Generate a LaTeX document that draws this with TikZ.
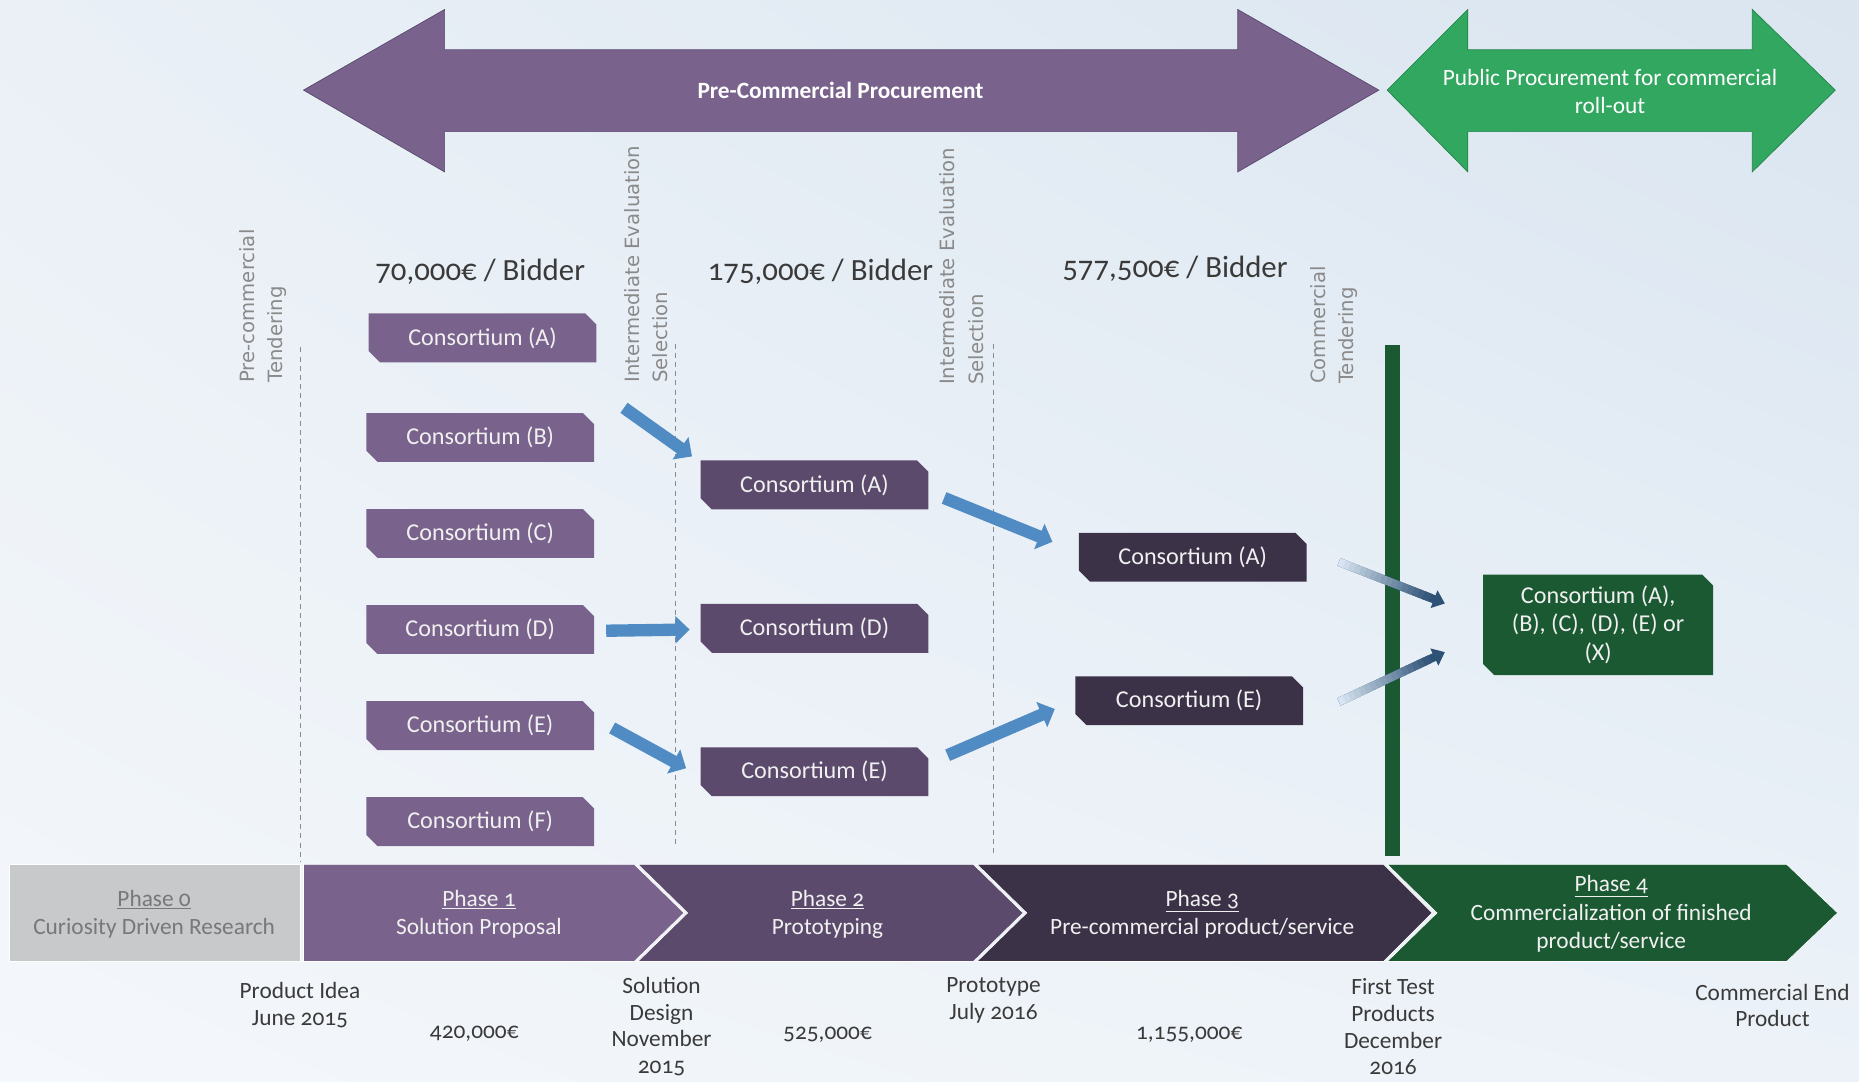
\documentclass[tikz,border=0pt]{standalone}
\usepackage{fontspec}
\setmainfont{Carlito}[Numbers=OldStyle]
\newfontfamily\vlabfont{DejaVu Sans}
\definecolor{bgtl}{RGB}{234, 240, 246}
\definecolor{bgtr}{RGB}{218, 229, 240}
\definecolor{bgbl}{RGB}{244, 247, 251}
\definecolor{bgbr}{RGB}{236, 242, 248}
\definecolor{pcpfill}{RGB}{121, 99, 140}
\definecolor{pcpline}{RGB}{88, 70, 110}
\definecolor{ppfill}{RGB}{49, 167, 96}
\definecolor{ppline}{RGB}{34, 130, 72}
\definecolor{phzero}{RGB}{200, 201, 203}
\definecolor{phone}{RGB}{121, 99, 140}
\definecolor{phtwo}{RGB}{91, 74, 108}
\definecolor{phthree}{RGB}{60, 50, 72}
\definecolor{phfour}{RGB}{27, 89, 51}
\definecolor{flowblue}{RGB}{80, 140, 195}
\definecolor{fadedark}{RGB}{46, 82, 118}
\definecolor{fadelight}{RGB}{215, 228, 241}
\definecolor{labelgray}{RGB}{138, 138, 138}
\definecolor{textdark}{RGB}{58, 58, 58}
\definecolor{zerotext}{RGB}{120, 120, 122}
\usetikzlibrary{calc, arrows.meta, shapes.misc, shadings}
\tikzset{
    cons/.style={chamfered rectangle, chamfered rectangle corners={north east, south west},
        chamfered rectangle xsep=3.5pt, minimum width=4.8cm, minimum height=1.03cm,
        inner sep=0pt, text=white!94!black, font=\fontsize{14.5}{17}\selectfont},
    consone/.style={cons, fill=phone},
    constwo/.style={cons, fill=phtwo},
    consthree/.style={cons, fill=phthree},
    consfin/.style={cons, fill=phfour, align=center, minimum width=4.85cm, minimum height=2.12cm},
    vlabel/.style={rotate=90, anchor=west, align=left, inner sep=0pt, text=labelgray,
        font=\vlabfont\fontsize{11.8}{17}\selectfont},
    sepline/.style={draw=labelgray, dashed, dash pattern=on 3pt off 2.5pt, thin},
    flow/.style={draw=flowblue, line width=7.4pt, -{Triangle[width=16pt, length=8.5pt]}},
    fadeflow/.style={draw=fadedark, line width=5pt, -{Triangle[width=11pt, length=7pt]}},
    fadeline/.style={line width=5pt, line cap=butt},
    bidder/.style={text=textdark, font=\fontsize{18.5}{22}\selectfont},
    mile/.style={align=center, text=textdark, font=\fontsize{14}{16}\selectfont},
    phtext/.style={align=center, text=white!94!black, font=\fontsize{14}{17}\selectfont},
}

\begin{document}
\begin{tikzpicture}[x=0.025cm, y=-0.025cm]
    % background
    \shade[upper left=bgtl, upper right=bgtr, lower left=bgbl, lower right=bgbr]
        (0,0) rectangle (1568,912);

    % procurement arrows
    \filldraw[fill=pcpfill, draw=pcpline] (256,76) -- (375,8) -- (375,42) -- (1044,42)
        -- (1044,8) -- (1163,76) -- (1044,145) -- (1044,111) -- (375,111) -- (375,145) -- cycle;
    \node[text=white, font=\bfseries\fontsize{14}{17}\selectfont] (pcp) at (709,76)
        {Pre-Commercial Procurement};
    \filldraw[fill=ppfill, draw=ppline] (1170,76) -- (1238,8) -- (1238,42) -- (1478,42)
        -- (1478,8) -- (1548,76) -- (1478,145) -- (1478,111) -- (1238,111) -- (1238,145) -- cycle;
    \node[phtext, text=white] (pp) at (1358,77)
        {Public Procurement for commercial\\roll-out};

    % tendering and selection marks
    \node[vlabel] (tend) at (222,323) {Pre-commercial\\Tendering};
    \node[vlabel] (selone) at (545,323) {Intermediate Evaluation\\Selection};
    \node[vlabel] (seltwo) at (811,325) {Intermediate Evaluation\\Selection};
    \node[vlabel] (comm) at (1125,324) {Commercial\\Tendering};
    \draw[sepline] (253,293) -- (253,727);
    \draw[sepline] (570,290) -- (570,712);
    \draw[sepline] (838,290) -- (838,722);
    \fill[phfour] (1168,291) rectangle (1181,722);

    % budget per bidder
    \node[bidder] (bone) at (405,229) {70,000€ / Bidder};
    \node[bidder] (btwo) at (692,229) {175,000€ / Bidder};
    \node[bidder] (bthree) at (991,227) {577,500€ / Bidder};

    % consortia
    \node[consone] (c1a) at (407,285) {Consortium (A)};
    \node[consone] (c1b) at (405,369) {Consortium (B)};
    \node[consone] (c1c) at (405,450) {Consortium (C)};
    \node[consone] (c1d) at (405,531) {Consortium (D)};
    \node[consone] (c1e) at (405,612) {Consortium (E)};
    \node[consone] (c1f) at (405,693) {Consortium (F)};
    \node[constwo] (c2a) at (687,409) {Consortium (A)};
    \node[constwo] (c2d) at (687,530) {Consortium (D)};
    \node[constwo] (c2e) at (687,651) {Consortium (E)};
    \node[consthree] (c3a) at (1006,470) {Consortium (A)};
    \node[consthree] (c3e) at (1003,591) {Consortium (E)};
    \node[consfin] (fin) at (1348,527) {Consortium (A),\\(B), (C), (D), (E) or\\(X)};

    % selections
    \draw[flow] ($(c1b.east)+(25,-25)$) -- ($(c2a.west)+(-7,-24)$);
    \draw[flow] ($(c1d.east)+(10,1)$) -- ($(c2d.west)+(-9,1)$);
    \draw[flow] ($(c1e.east)+(15,2)$) -- ($(c2e.west)+(-12,-3)$);
    \draw[flow] ($(c2a.east)+(13,11)$) -- ($(c3a.west)+(-22,-13)$);
    \draw[flow] ($(c2e.east)+(16,-14)$) -- ($(c3e.west)+(-17,7)$);

    % commercial roll-out
    \coordinate (fa) at ($(c3a.east)+(27,4)$);
    \coordinate (fb) at ($(fin.west)+(-32,-18)$);
    \coordinate (fc) at ($(c3e.east)+(30,1)$);
    \coordinate (fd) at ($(fin.west)+(-32,23)$);
    \foreach \s/\e in {fa/fb, fc/fd} {
        \draw[fadeflow] (\s) -- (\e);
        \foreach \i in {0,...,16} {
            \pgfmathsetmacro\ta{\i/20}
            \pgfmathsetmacro\tb{\ta+0.06}
            \pgfmathtruncatemacro\p{6*\i}
            \draw[fadeline, draw=fadedark!\p!fadelight] ($(\s)!\ta!(\e)$) -- ($(\s)!\tb!(\e)$);
        }
    }

    % phases
    \filldraw[fill=phzero, draw=white] (8,729) rectangle (253,811);
    \filldraw[fill=phone, draw=white] (256,729) -- (535,729) -- (577,770) -- (535,811)
        -- (256,811) -- cycle;
    \filldraw[fill=phtwo, draw=white] (538,729) -- (821,729) -- (863,770) -- (821,811)
        -- (538,811) -- (580,770) -- cycle;
    \filldraw[fill=phthree, draw=white] (824,729) -- (1167,729) -- (1208,770) -- (1167,811)
        -- (824,811) -- (866,770) -- cycle;
    \filldraw[fill=phfour, draw=white] (1170,729) -- (1507,729) -- (1550,770) -- (1507,811)
        -- (1170,811) -- (1212,770) -- cycle;
    \node[phtext, text=zerotext] (ph0) at (130,771) {\underline{Phase 0}\\Curiosity Driven Research};
    \node[phtext] (ph1) at (404,771) {\underline{Phase 1}\\Solution Proposal};
    \node[phtext] (ph2) at (698,771) {\underline{Phase 2}\\Prototyping};
    \node[phtext] (ph3) at (1014,771) {\underline{Phase 3}\\Pre-commercial product/service};
    \node[phtext] (ph4) at (1359,771) {\underline{Phase 4}\\Commercialization of finished\\product/service};

    % milestones and budgets
    \node[mile] (idea) at (253,848) {Product Idea\\June 2015};
    \node[mile] (mone) at (400,872) {420,000€};
    \node[mile] (design) at (558,866) {Solution\\Design\\November\\2015};
    \node[mile] (mtwo) at (698,873) {525,000€};
    \node[mile] (proto) at (838,844) {Prototype\\July 2016};
    \node[mile] (mthree) at (1003,873) {1,155,000€};
    \node[mile] (first) at (1175,866) {First Test\\Products\\December\\2016};
    \node[mile] (endprod) at (1495,848) {Commercial End\\Product};
\end{tikzpicture}
\end{document}
